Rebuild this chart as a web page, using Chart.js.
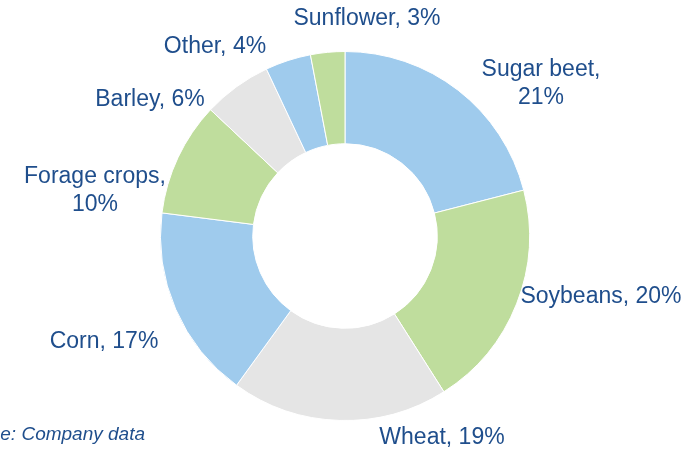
<!DOCTYPE html>
<html>
<head>
<meta charset="utf-8">
<script src="https://cdn.jsdelivr.net/npm/chart.js@4.4.1/dist/chart.umd.min.js"></script>
<style>
  html, body { margin:0; padding:0; background:#fff; }
  #wrap { width:694px; height:449px; position:relative; }
</style>
</head>
<body>
<div id="wrap"><canvas id="pie" width="694" height="449"></canvas></div>
<script>
// Crop area shares, clockwise from 12 o'clock
const categories = ['Sugar beet', 'Soybeans', 'Wheat', 'Corn', 'Forage crops', 'Barley', 'Other', 'Sunflower'];
const shares = [21, 20, 19, 17, 10, 6, 4, 3];
const sliceColors = ['#9fcbed', '#bfdd9d', '#e5e5e5', '#9fcbed', '#bfdd9d', '#e5e5e5', '#9fcbed', '#bfdd9d'];

const TEXT = '#1f4e8c';
const FONT = '"Liberation Sans", Arial, sans-serif';

// label placement relative to the doughnut centre
const labelPos = [
  { dx: 196, dy: -152, wrap: true },
  { dx: 256, dy: 61 },
  { dx: 97, dy: 202 },
  { dx: -241, dy: 106 },
  { dx: -250, dy: -45, wrap: true },
  { dx: -195, dy: -136 },
  { dx: -130, dy: -189 },
  { dx: 22, dy: -217 },
];

const labelPlugin = {
  id: 'sliceLabels',
  afterDraw(chart){
    const ctx = chart.ctx;
    const arc = chart.getDatasetMeta(0).data[0];
    const cx = arc.x, cy = arc.y;
    ctx.save();
    ctx.fillStyle = TEXT;
    ctx.font = `23px ${FONT}`;
    ctx.textAlign = 'center';
    ctx.textBaseline = 'middle';
    categories.forEach((c, i) => {
      const p = labelPos[i];
      const pct = shares[i] + '%';
      if(p.wrap){
        ctx.fillText(c + ',', cx + p.dx, cy + p.dy - 14);
        ctx.fillText(pct, cx + p.dx, cy + p.dy + 14);
      } else {
        ctx.fillText(c + ', ' + pct, cx + p.dx, cy + p.dy);
      }
    });
    // source note, clipped by the left edge like the original
    ctx.font = `italic 19px ${FONT}`;
    ctx.textAlign = 'right';
    ctx.textBaseline = 'alphabetic';
    ctx.fillText('Source: Company data', 145, 440);
    ctx.restore();
  }
};

new Chart(document.getElementById('pie').getContext('2d'), {
  type: 'doughnut',
  data: {
    labels: categories,
    datasets: [{
      data: shares,
      backgroundColor: sliceColors,
      borderColor: '#ffffff',
      borderWidth: 1,
    }]
  },
  options: {
    responsive: false,
    animation: false,
    cutout: '50%',
    layout: { padding: { left: 160, right: 164, top: 51, bottom: 28 } },
    plugins: { legend: { display: false }, tooltip: { enabled: false } }
  },
  plugins: [labelPlugin]
});
</script>
</body>
</html>
